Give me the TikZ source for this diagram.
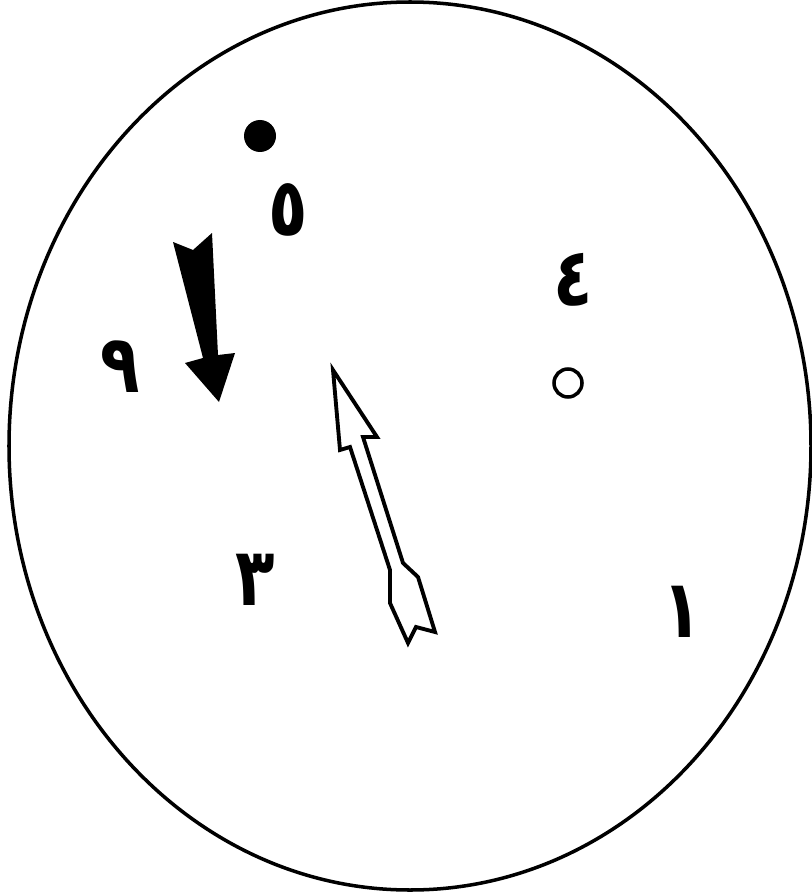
\documentclass[tikz,border=0pt]{standalone}
\usepackage{fontspec}
\newfontfamily\arabicfont[Script=Arabic]{DejaVu Sans}
\tikzset{
  digit/.style={font=\arabicfont\bfseries\fontsize{46}{46}\selectfont, inner sep=0pt, xscale=0.8},
  rim/.style={line width=2pt},
  outline/.style={line width=2.2pt, line join=miter}
}
\begin{document}
\begin{tikzpicture}[x=0.02cm,y=-0.02cm]
\useasboundingbox (0,0) rectangle (811,895);
% the dial
\draw[rim] (410,446) ellipse [x radius=401, y radius=444];
% dots
\fill (260,136) circle (16);
\draw[line width=2pt] (568,383) circle (14);
% digits
\node[digit] (five) at (288,210) {\arabicfont ٥};
\node[digit] (four) at (573,280) {\arabicfont ٤};
\node[digit] (nine) at (120,367) {\arabicfont ٩};
\node[digit] (three) at (255,580) {\arabicfont ٣};
\node[digit] (one) at (682,612) {\arabicfont ١};
% black arrow
\fill (173,242) -- (193,250) -- (212,233) -- (218,355) -- (235,353)
  -- (219,402) -- (185,363) -- (203,358) -- cycle;
% white arrow
\draw[outline] (333,370) -- (377,437) -- (363,437) -- (403,563) -- (418,577)
  -- (435,632) -- (416,627) -- (408,643) -- (390,603) -- (390,570)
  -- (350,447) -- (340,450) -- cycle;
\end{tikzpicture}
\end{document}
